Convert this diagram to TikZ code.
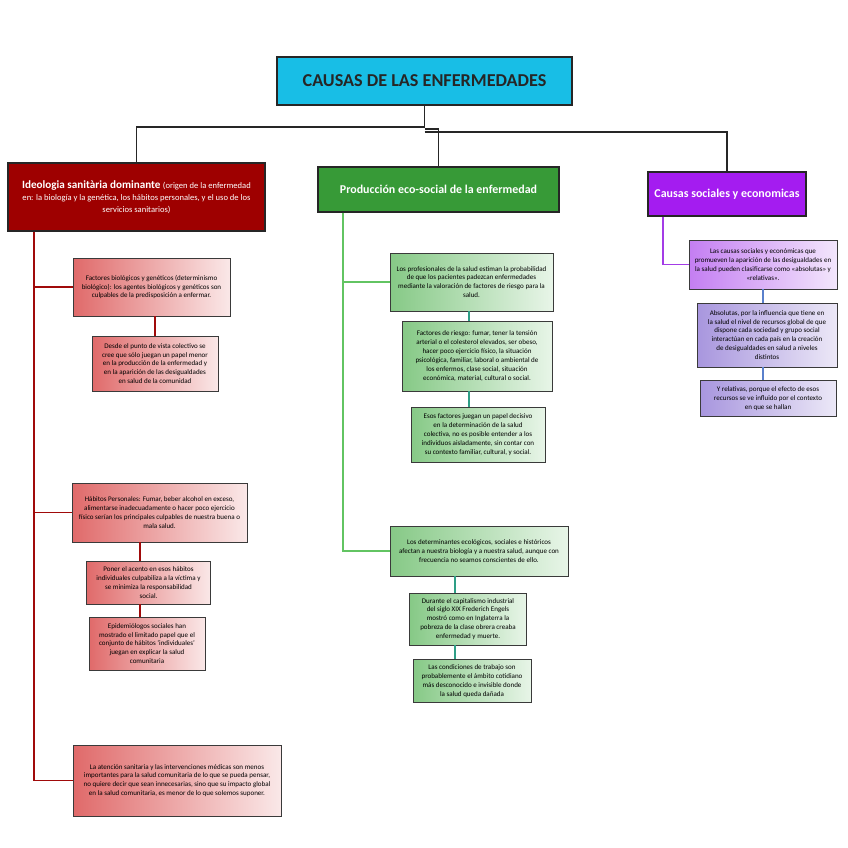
\documentclass[tikz,border=0pt]{standalone}
\usepackage{fontspec}
\setmainfont{Carlito}
\definecolor{titlecyan}{HTML}{18BEE6}
\definecolor{ideored}{HTML}{9E0000}
\definecolor{prodgreen}{HTML}{379A37}
\definecolor{causpurple}{HTML}{A41CF0}
\definecolor{redleft}{HTML}{E06A6A}
\definecolor{redright}{HTML}{FAE8E8}
\definecolor{greenleft}{HTML}{86C986}
\definecolor{greenright}{HTML}{E8F5E8}
\definecolor{purleft}{HTML}{C47EF2}
\definecolor{purright}{HTML}{F3E6FC}
\definecolor{lavleft}{HTML}{A896DE}
\definecolor{lavright}{HTML}{ECE8F7}
\definecolor{boxborder}{HTML}{3A3A3A}
\definecolor{redline}{HTML}{A00A0A}
\definecolor{greenline}{HTML}{62C462}
\definecolor{tealline}{HTML}{2E9E86}
\definecolor{purline}{HTML}{A33CE6}
\definecolor{blueline}{HTML}{5A80CC}
\begin{document}
\begin{tikzpicture}[x=0.03cm,y=-0.03cm,
	boxsize/.style 2 args={minimum width=#1*0.03cm,minimum height=#2*0.03cm},
	box/.style={draw=boxborder,line width=0.6pt,align=center,inner sep=1pt,
		text=black,font=\fontsize{6}{7.6}\selectfont},
	redbox/.style={box,left color=redleft,right color=redright},
	greenbox/.style={box,left color=greenleft,right color=greenright},
	purbox/.style={box,left color=purleft,right color=purright},
	lavbox/.style={box,left color=lavleft,right color=lavright},
	mainbox/.style={draw=black!85,line width=1pt,text=white,align=center,
		font=\bfseries\fontsize{10.2}{12}\selectfont},
	smalltxt/.style={font=\mdseries\fontsize{7.3}{9.4}\selectfont},
	topline/.style={draw=black!85,line width=1pt}]
	% page size
	\useasboundingbox (0,0) rectangle (848,848);
	% title
	\node[draw=black!85,line width=1.3pt,fill=titlecyan,boxsize={295}{48},
		font=\bfseries\fontsize{15.5}{18}\selectfont,text=black!85] (title) at (424.5,81)
		{CAUSAS DE LAS ENFERMEDADES};
	% the three main causes
	\node[mainbox,fill=ideored,boxsize={257}{68},inner sep=1pt] (ideo) at (136.5,197)
		{\fontsize{9.5}{11}\selectfont Ideologia sanitària dominante {\mdseries\fontsize{7.3}{9.4}\selectfont (origen de la enfermedad}\\[-1pt]
		{\mdseries\fontsize{7.3}{9.4}\selectfont en: la biología y la genética, los hábitos personales, y el uso de los}\\[-2pt]
		{\mdseries\fontsize{7.3}{9.4}\selectfont servicios sanitarios)}};
	\node[mainbox,fill=prodgreen,boxsize={241}{45}] (prod) at (438.5,189.5)
		{Producción eco-social de la enfermedad};
	\node[mainbox,fill=causpurple,boxsize={158}{44}] (causas) at (727,194)
		{Causas sociales y economicas};
	% connectors from the title
	\draw[topline] (title.south) -- (title.south |- 0,127) -| (ideo.north);
	\draw[topline] (title.south |- 0,129) -| (prod.north);
	\draw[topline] (title.south |- 0,132) -| (causas.north);
	% red column
	\node[redbox,boxsize={157}{58}] (bio) at (151.5,287)
		{Factores biológicos y genéticos (determinismo\\ biológico): los agentes biológicos y genéticos son\\
		culpables de la predisposición a enfermar.};
	\node[redbox,boxsize={126}{55}] (desde) at (155,363.5)
		{Desde el punto de vista colectivo se\\ cree que sólo juegan un papel menor\\ en la producción de la enfermedad y\\
		en la aparición de las desigualdades\\ en salud de la comunidad};
	\node[redbox,boxsize={175}{59}] (habitos) at (159.5,512.5)
		{Hábitos Personales: Fumar, beber alcohol en exceso,\\ alimentarse inadecuadamente o hacer poco ejercicio\\
		físico serían los principales culpables de nuestra buena o\\ mala salud.};
	\node[redbox,boxsize={124}{43}] (poner) at (148.5,582.5)
		{Poner el acento en esos hábitos\\ individuales culpabiliza a la víctima y\\ se minimiza la responsabilidad\\ social.};
	\node[redbox,boxsize={116}{53}] (epi) at (147,643.5)
		{Epidemiólogos sociales han\\ mostrado el limitado papel que el\\ conjunto de hábitos ‘individuales’\\
		juegan en explicar la salud\\ comunitaria};
	\node[redbox,boxsize={208}{71}] (atencion) at (177,780.5)
		{La atención sanitaria y las intervenciones médicas son menos\\
		importantes para la salud comunitaria de lo que se pueda pensar,\\
		no quiere decir que sean innecesarias, sino que su impacto global\\
		en la salud comunitaria, es menor de lo que solemos suponer.};
	\coordinate (rtrunk) at (34,0);
	\coordinate (rsub) at (140,0);
	\draw[redline,line width=1.2pt] (ideo.south -| rtrunk) |- (atencion.west);
	\draw[redline,line width=1.2pt] (bio.west -| rtrunk) -- (bio.west);
	\draw[redline,line width=1.2pt] (habitos.west -| rtrunk) -- (habitos.west);
	\draw[redline,line width=1.2pt] (desde.north |- bio.south) -- (desde.north);
	\draw[redline,line width=1.2pt] (habitos.south -| rsub) -- (poner.north -| rsub);
	\draw[redline,line width=1.2pt] (poner.south -| rsub) -- (epi.north -| rsub);
	% green column
	\node[greenbox,boxsize={163}{58}] (prof) at (471.5,282)
		{Los profesionales de la salud estiman la probabilidad\\ de que los pacientes padezcan enfermedades\\
		mediante la valoración de factores de riesgo para la\\ salud.};
	\node[greenbox,boxsize={150}{70}] (riesgo) at (477,356)
		{Factores de riesgo: fumar, tener la tensión\\ arterial o el colesterol elevados, ser obeso,\\
		hacer poco ejercicio físico, la situación\\ psicológica, familiar, laboral o ambiental de\\
		los enfermos, clase social, situación\\ económica, material, cultural o social.};
	\node[greenbox,boxsize={134}{55}] (esos) at (478,434.5)
		{Esos factores juegan un papel decisivo\\ en la determinación de la salud\\ colectiva, no es posible entender a los\\
		individuos aisladamente, sin contar con\\ su contexto familiar, cultural, y social.};
	\node[greenbox,boxsize={178}{50}] (determ) at (479,551)
		{Los determinantes ecológicos, sociales e históricos\\ afectan a nuestra biología y a nuestra salud, aunque con\\
		frecuencia no seamos conscientes de ello.};
	\node[greenbox,boxsize={117}{52}] (durante) at (468,619)
		{Durante el capitalismo industrial\\ del siglo XIX Frederich Engels\\ mostró como en Inglaterra la\\
		pobreza de la clase obrera creaba\\ enfermedad y muerte.};
	\node[greenbox,boxsize={118}{43}] (condic) at (472,681)
		{Las condiciones de trabajo son\\ probablemente el ámbito cotidiano\\ más desconocido e invisible donde\\ la salud queda dañada};
	\coordinate (gtrunk) at (343,0);
	\coordinate (gsub) at (469,0);
	\coordinate (gsubb) at (455,0);
	\draw[greenline,line width=1pt] (prod.south -| gtrunk) |- (determ.west);
	\draw[greenline,line width=1pt] (prof.west -| gtrunk) -- (prof.west);
	\draw[tealline,line width=1pt] (prof.south -| gsub) -- (riesgo.north -| gsub);
	\draw[tealline,line width=1pt] (riesgo.south -| gsub) -- (esos.north -| gsub);
	\draw[tealline,line width=1pt] (determ.south -| gsubb) -- (durante.north -| gsubb);
	\draw[tealline,line width=1pt] (durante.south -| gsubb) -- (condic.north -| gsubb);
	% purple column
	\node[purbox,boxsize={148}{49}] (clasif) at (763,264.5)
		{Las causas sociales y económicas que\\ promueven la aparición de las desigualdades en\\
		la salud pueden clasificarse como «absolutas» y\\ «relativas».};
	\node[lavbox,boxsize={140}{64}] (absol) at (767,335)
		{Absolutas, por la influencia que tiene en\\ la salud el nivel de recursos global de que\\
		dispone cada sociedad y grupo social\\ interactúan en cada país en la creación\\
		de desigualdades en salud a niveles\\ distintos};
	\node[lavbox,boxsize={136}{36}] (relat) at (768,398.5)
		{Y relativas, porque el efecto de esos\\ recursos se ve influido por el contexto\\ en que se hallan};
	\coordinate (ptrunk) at (663,0);
	\coordinate (psub) at (763,0);
	\draw[purline,line width=1.2pt] (causas.south -| ptrunk) |- (clasif.west);
	\draw[blueline,line width=1pt] (clasif.south -| psub) -- (absol.north -| psub);
	\draw[blueline,line width=1pt] (absol.south -| psub) -- (relat.north -| psub);
\end{tikzpicture}
\end{document}
